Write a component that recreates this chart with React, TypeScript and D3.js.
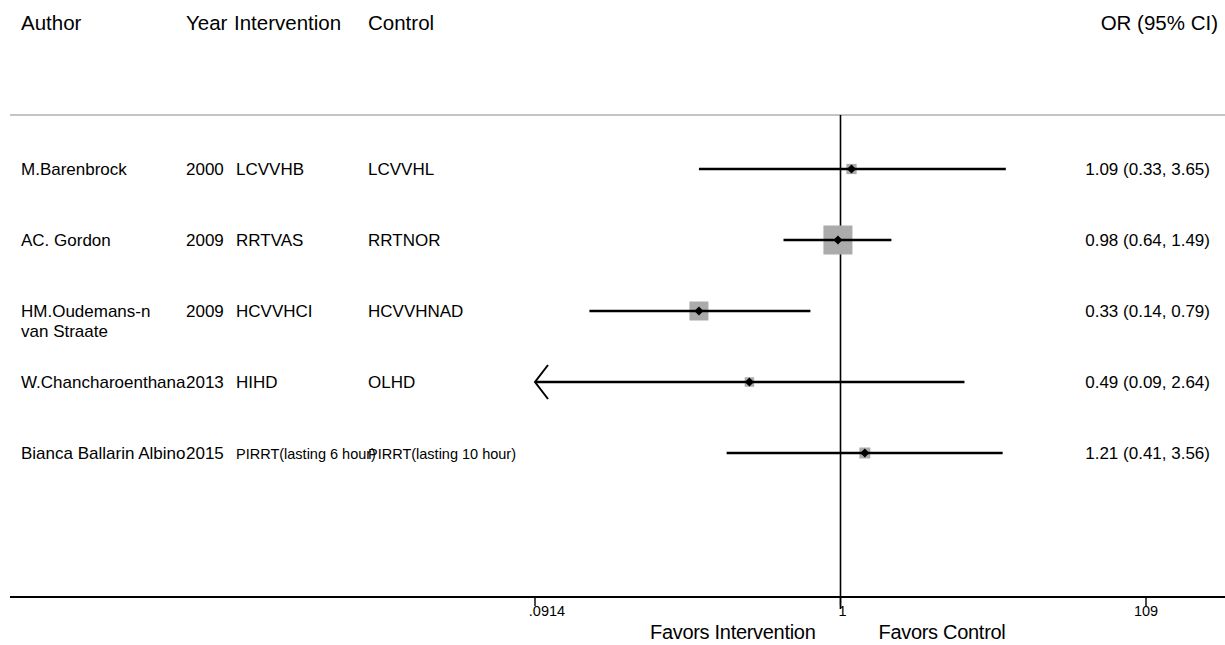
import React from "react";
import * as d3 from "d3";

const authors: string[][] = [
  ["M.Barenbrock"],
  ["AC. Gordon"],
  ["HM.Oudemans-n", "van Straate"],
  ["W.Chancharoenthana"],
  ["Bianca Ballarin Albino"],
];
const years = ["2000", "2009", "2009", "2013", "2015"];
const interventions = ["LCVVHB", "RRTVAS", "HCVVHCI", "HIHD", "PIRRT(lasting 6 hour)"];
const controls = ["LCVVHL", "RRTNOR", "HCVVHNAD", "OLHD", "PIRRT(lasting 10 hour)"];
const orValues = [1.09, 0.98, 0.33, 0.49, 1.21];
const ciLower = [0.33, 0.64, 0.14, 0.09, 0.41];
const ciUpper = [3.65, 1.49, 0.79, 2.64, 3.56];
const weights = [7, 56, 24, 6, 8];
const tickValues = [1 / 10.94, 1, 10.94];
const tickLabels = [".0914", "1", "109"];
const headers = ["Author", "Year", "Intervention", "Control"];

const W = 1225;
const H = 645;
const FONT = "'Liberation Sans', Arial, Helvetica, sans-serif";

export default function App() {
  const x = d3.scaleLog().domain([1 / 10.94, 10.94]).range([535, 1146]);
  const y = d3.scaleLinear().domain([0, 4]).range([169, 453]);
  const boxSize = d3.scaleSqrt().domain([0, 56]).range([0, 29]);
  const [dMin] = x.domain();
  const axisY = 597;
  const topY = 115;
  const colX = [21, 186, 236, 368];
  const fmt = (v: number) => v.toFixed(2);

  return (
    <svg
      width={W}
      height={H}
      style={{ position: "absolute", left: 0, top: 0, background: "#fff" }}
      fontFamily={FONT}
    >
      <rect x={0} y={0} width={W} height={H} fill="#fff" />
      {/* header */}
      <text x={colX[0]} y={30} fontSize={20.5}>{headers[0]}</text>
      <text x={colX[1]} y={30} fontSize={20.5}>{headers[1]}</text>
      <text x={colX[2] - 2} y={30} fontSize={20.5}>{headers[2]}</text>
      <text x={colX[3]} y={30} fontSize={20.5}>{headers[3]}</text>
      <text x={1218} y={30} fontSize={20.5} textAnchor="end">OR (95% CI)</text>

      {/* top gray rule */}
      <line x1={10} x2={W} y1={topY} y2={topY} stroke="#c4c4c4" strokeWidth={2} />

      {/* null line */}
      <line x1={x(1)} x2={x(1)} y1={topY} y2={axisY + 12} stroke="#000" strokeWidth={1.6} />

      {/* rows */}
      {orValues.map((v, i) => {
        const cy = y(i);
        const lo = ciLower[i];
        const hi = ciUpper[i];
        const clippedLo = lo < dMin;
        const x1 = x(Math.max(lo, dMin));
        const x2 = x(hi);
        const s = boxSize(weights[i]);
        const cx = x(v);
        const small = i === 4;
        return (
          <g key={i}>
            {authors[i].map((line, j) => (
              <text key={j} x={colX[0]} y={cy + 6 + j * 20} fontSize={17}>{line}</text>
            ))}
            <text x={colX[1]} y={cy + 6} fontSize={17}>{years[i]}</text>
            <text x={colX[2]} y={cy + 6} fontSize={small ? 14.5 : 17}>{interventions[i]}</text>
            <text x={colX[3]} y={cy + 6} fontSize={small ? 14.5 : 17}>{controls[i]}</text>
            <text x={1210} y={cy + 6} fontSize={17} textAnchor="end">
              {`${fmt(v)} (${fmt(lo)}, ${fmt(hi)})`}
            </text>
            <rect x={cx - s / 2} y={cy - s / 2} width={s} height={s} fill="#ababab" />
            <line x1={x1} x2={x2} y1={cy} y2={cy} stroke="#000" strokeWidth={2.6} />
            {clippedLo && (
              <path
                d={`M${x1 + 13},${cy - 17} L${x1},${cy} L${x1 + 13},${cy + 17}`}
                fill="none"
                stroke="#000"
                strokeWidth={2}
              />
            )}
            <path
              d={`M${cx - 4.5},${cy} L${cx},${cy - 4.5} L${cx + 4.5},${cy} L${cx},${cy + 4.5} Z`}
              fill="#000"
            />
          </g>
        );
      })}

      {/* axis */}
      <line x1={10} x2={W} y1={axisY} y2={axisY} stroke="#000" strokeWidth={2} />
      {tickValues.map((t, i) => (
        <g key={i}>
          <line x1={x(t)} x2={x(t)} y1={axisY} y2={axisY + 9} stroke="#000" strokeWidth={1.4} />
          <text
            x={x(t) + (i === 0 ? 12 : i === 1 ? 2 : 0)}
            y={axisY + 19}
            fontSize={14.5}
            textAnchor="middle"
          >
            {tickLabels[i]}
          </text>
        </g>
      ))}
      <text x={x(1) - 25} y={639} fontSize={20} textAnchor="end" letterSpacing={-0.3}>
        Favors Intervention
      </text>
      <text x={x(1) + 38} y={639} fontSize={20} textAnchor="start" letterSpacing={-0.3}>
        Favors Control
      </text>
    </svg>
  );
}
